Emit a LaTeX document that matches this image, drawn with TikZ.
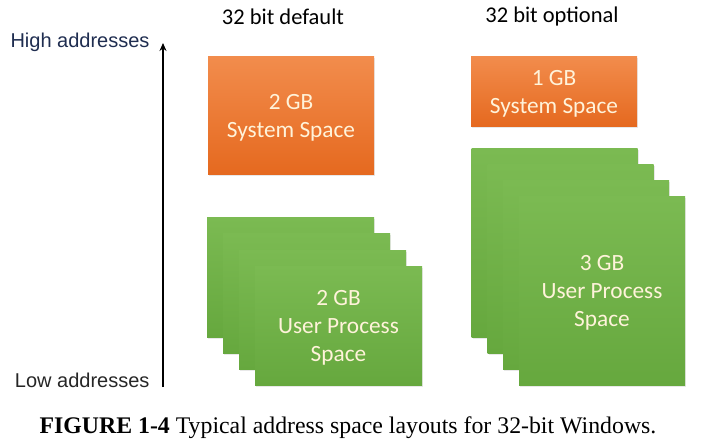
\documentclass[tikz,border=0pt]{standalone}
\usepackage{fontspec}
\setmainfont{Liberation Serif}
\newfontfamily\calibri{Carlito}
\newfontfamily\arial{Liberation Sans}
\usetikzlibrary{arrows.meta,shadows}

\definecolor{orangetop}{HTML}{F28C4C}
\definecolor{orangebot}{HTML}{E5691F}
\definecolor{greentop}{HTML}{7BBA52}
\definecolor{greenbot}{HTML}{66A83E}
\definecolor{boxtext}{HTML}{FFF3DA}
\definecolor{navy}{HTML}{1F2D50}

\begin{document}
\begin{tikzpicture}[x=1pt, y=-1pt,
    box/.style={inner sep=0pt, align=center, text=boxtext,
        font=\calibri\fontsize{23.3}{28}\selectfont,
        drop shadow={opacity=0.18, shadow xshift=1pt, shadow yshift=-1.5pt}},
    sys node/.style={box, top color=orangetop, bottom color=orangebot},
    user node/.style={box, top color=greentop, bottom color=greenbot},
    head node/.style={font=\calibri\fontsize{22.5}{26}\selectfont},
    addr node/.style={anchor=east, font=\arial\fontsize{20}{24}\selectfont}]

    \useasboundingbox (0,0) rectangle (722,446);

    \node[head node] at (283, 17) (hdef) {32 bit default};
    \node[head node] at (552, 17) (hopt) {32 bit optional};

    \node[addr node, text=navy] at (153, 42) (high) {High addresses};
    \node[addr node, text=black!85] at (153, 380) (low) {Low addresses};
    \coordinate (top) at (163, 43);
    \coordinate (bottom) at (163, 387);
    \draw[line width=2pt, -{Stealth[length=8pt, width=7pt]}] (bottom) -- (top);

    % 32 bit default
    \node[sys node, minimum width=166pt, minimum height=118pt] at (291, 116) (sysdef) {\strut2 GB\\System Space};
    \node[user node, minimum width=167pt, minimum height=119pt] at (290.5, 277.5) (udef1) {};
    \node[user node, minimum width=167pt, minimum height=119pt] at (306.5, 293.5) (udef2) {};
    \node[user node, minimum width=167pt, minimum height=119pt] at (322.5, 309.5) (udef3) {};
    \node[user node, minimum width=167pt, minimum height=119pt] at (338.5, 325.5) (udef4) {\strut2 GB\\User Process\\Space};

    % 32 bit optional
    \node[sys node, minimum width=166pt, minimum height=70pt] at (554, 92) (sysopt) {\strut1 GB\\System Space};
    \node[user node, minimum width=166pt, minimum height=188pt] at (554.5, 243) (uopt1) {};
    \node[user node, minimum width=166pt, minimum height=188pt] at (570.5, 259) (uopt2) {};
    \node[user node, minimum width=166pt, minimum height=188pt] at (586, 275) (uopt3) {};
    \node[user node, minimum width=166pt, minimum height=188pt] at (602, 291) (uopt4) {\strut3 GB\\User Process\\Space};

    \node[font=\fontsize{23.8}{28}\selectfont] at (348, 428) (caption) {\textbf{FIGURE 1-4} Typical address space layouts for 32-bit Windows.};
\end{tikzpicture}
\end{document}
